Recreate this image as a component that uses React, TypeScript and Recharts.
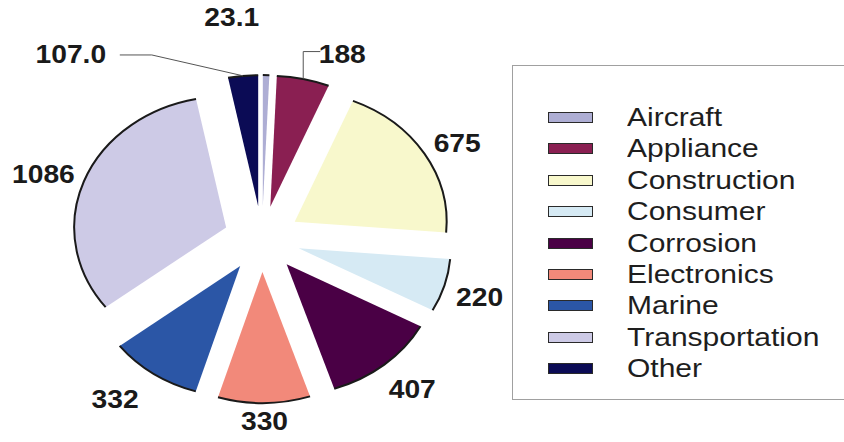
import React from 'react';
import { PieChart, Pie, Cell, Legend, Tooltip } from 'recharts';

const categories = ['Aircraft', 'Appliance', 'Construction', 'Consumer', 'Corrosion', 'Electronics', 'Marine', 'Transportation', 'Other'];
const values = [23.1, 188, 675, 220, 407, 330, 332, 1086, 107.0];
const valueLabels = ['23.1', '188', '675', '220', '407', '330', '332', '1086', '107.0'];
const colors = ['#aeaed4', '#8a1f52', '#f8f8cc', '#d6eaf4', '#4a0045', '#f2897a', '#2b56a6', '#cdcae6', '#0b0b55'];

const data = categories.map((name, i) => ({ name, value: values[i], label: valueLabels[i] }));

// the picture is stretched sideways, so the pie is an ellipse
const SX = 1.16;
const EXPLODE = 33;
const LABEL_GAP = 61;
const RAD = Math.PI / 180;
const FONT = '"Liberation Sans", Arial, sans-serif';

// label nudges, where the original moved labels out of each other's way
const labelNudge: Record<string, { dx: number; dy: number; leader?: 'up' | 'left' }> = {
  Aircraft: { dx: -35, dy: -29 },
  Appliance: { dx: 32, dy: 3, leader: 'up' },
  Construction: { dx: 5, dy: 4 },
  Consumer: { dx: 4, dy: 4 },
  Corrosion: { dx: 7, dy: 4 },
  Electronics: { dx: 0, dy: -9 },
  Marine: { dx: -20, dy: 3 },
  Transportation: { dx: -10, dy: 3 },
  Other: { dx: -169, dy: 7, leader: 'left' },
};

const pt = (x: number, y: number, r: number, deg: number): [number, number] => [
  x + SX * r * Math.cos(-deg * RAD),
  y + r * Math.sin(-deg * RAD),
];

const ExplodedSector = (props: any) => {
  const { cx, cy, startAngle, endAngle, midAngle, outerRadius, fill } = props;
  const [tx, ty] = pt(cx, cy, EXPLODE, midAngle);
  const [sx, sy] = pt(tx, ty, outerRadius, startAngle);
  const [ex, ey] = pt(tx, ty, outerRadius, endAngle);
  const large = Math.abs(startAngle - endAngle) > 180 ? 1 : 0;
  const sweep = startAngle > endAngle ? 1 : 0;
  const arc = `A ${SX * outerRadius} ${outerRadius} 0 ${large} ${sweep} ${ex} ${ey}`;
  return (
    <g>
      <path d={`M ${tx} ${ty} L ${sx} ${sy} ${arc} Z`} fill={fill} stroke="none" />
      <path d={`M ${sx} ${sy} ${arc}`} fill="none" stroke="#1a1a1a" strokeWidth={2} />
    </g>
  );
};

const renderLabel = (props: any) => {
  const { cx, cy, midAngle, outerRadius, name, payload } = props;
  const nudge = labelNudge[name] || { dx: 0, dy: 0 };
  const [bx, by] = pt(cx, cy, outerRadius + LABEL_GAP, midAngle);
  const lx = bx + nudge.dx;
  const ly = by + nudge.dy;
  const [tx, ty] = pt(cx, cy, EXPLODE, midAngle);
  const [ox, oy] = pt(tx, ty, outerRadius, midAngle);
  let leader: string | null = null;
  if (nudge.leader === 'left') leader = `M ${ox} ${oy} L ${lx + 81} ${ly} L ${lx + 49} ${ly}`;
  if (nudge.leader === 'up') leader = `M ${ox} ${oy} L ${ox} ${ly - 3} L ${lx - 22} ${ly - 3}`;
  return (
    <g>
      {leader && <path d={leader} fill="none" stroke="#555" strokeWidth={1} />}
      <text
        x={0}
        y={0}
        transform={`translate(${lx},${ly}) scale(1.13,1)`}
        textAnchor="middle"
        dominantBaseline="central"
        fontFamily={FONT}
        fontWeight="bold"
        fontSize={25}
        fill="#1a1a1a"
      >
        {payload?.label ?? name}
      </text>
    </g>
  );
};

// legend keeps the data order (Recharts would sort it by name)
const renderLegend = () => (
  <div
    style={{
      width: 332,
      height: 335,
      boxSizing: 'border-box',
      border: '1px solid #a0a0a0',
      borderRight: 'none',
      background: '#fff',
      paddingTop: 36,
    }}
  >
    {categories.map((name, i) => (
      <div key={name} style={{ position: 'relative', height: 31.4 }}>
        <div
          style={{
            position: 'absolute',
            left: 35,
            top: 10,
            width: 45,
            height: 11,
            boxSizing: 'border-box',
            border: '1.5px solid #2a2a2a',
            background: colors[i],
          }}
        />
        <span
          style={{
            position: 'absolute',
            left: 114,
            top: 0,
            lineHeight: '31.4px',
            fontFamily: FONT,
            fontSize: 25,
            color: '#1e1e1e',
            display: 'inline-block',
            whiteSpace: 'nowrap',
            transform: 'scaleX(1.2)',
            transformOrigin: 'left center',
          }}
        >
          {name}
        </span>
      </div>
    ))}
  </div>
);

export default function App() {
  return (
    <div style={{ position: 'fixed', left: 0, top: 0, width: 844, height: 442, background: '#fff' }}>
      <PieChart width={844} height={442} margin={{ top: 0, right: 0, bottom: 0, left: 0 }}>
        <Pie
          data={data}
          dataKey="value"
          nameKey="name"
          cx={262}
          cy={239}
          outerRadius={131}
          startAngle={90}
          endAngle={-270}
          stroke="none"
          labelLine={false}
          label={renderLabel}
          shape={ExplodedSector}
          activeShape={ExplodedSector}
          inactiveShape={ExplodedSector}
          isAnimationActive={false}
        >
          {data.map((d, i) => (
            <Cell key={d.name} fill={colors[i]} />
          ))}
        </Pie>
        <Tooltip defaultIndex={0} content={() => null} />
        <Legend
          content={renderLegend}
          layout="vertical"
          wrapperStyle={{ left: 512, top: 65, width: 332, height: 335 }}
        />
      </PieChart>
    </div>
  );
}
